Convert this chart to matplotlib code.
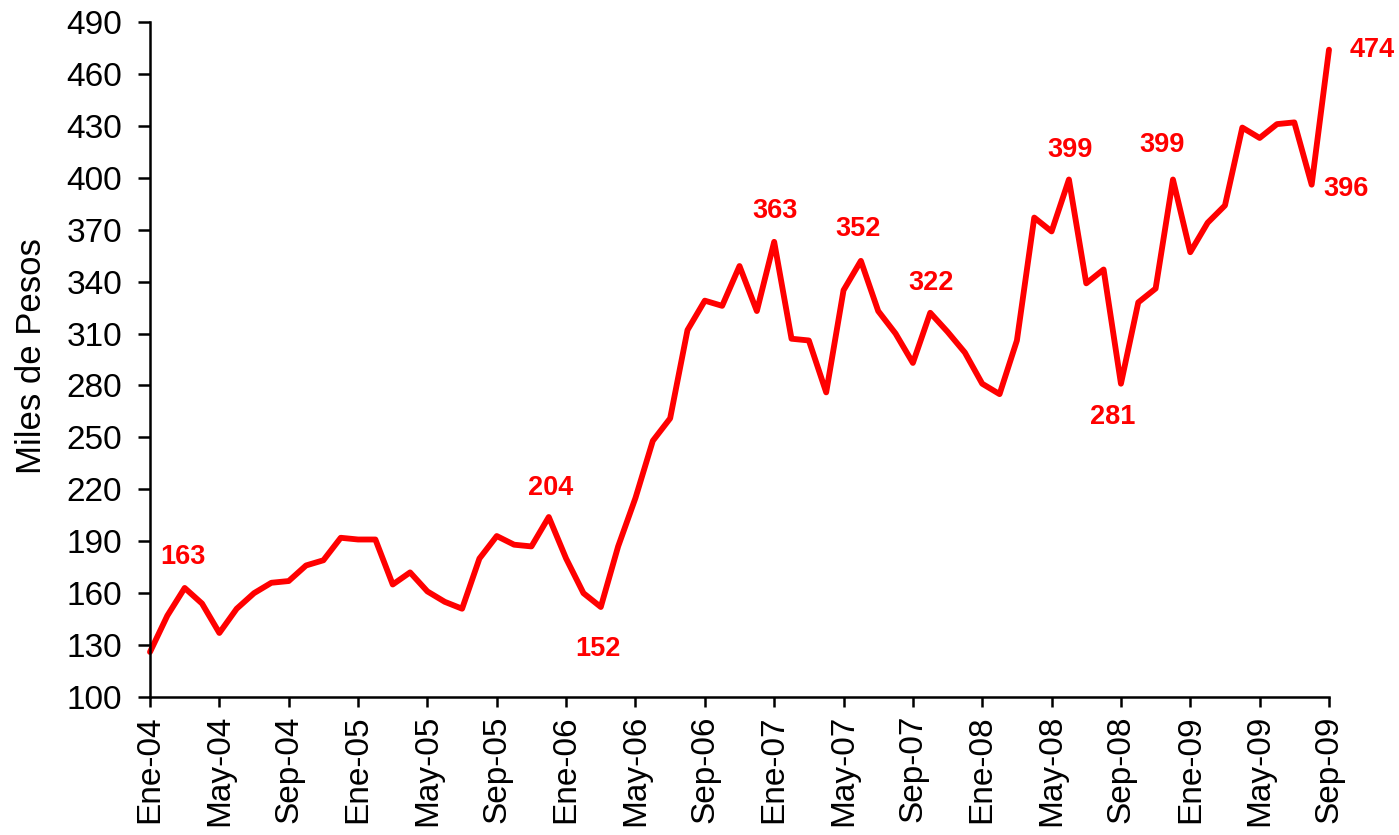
import matplotlib
matplotlib.use("Agg")
import matplotlib.pyplot as plt

plt.rcParams['font.family'] = ['Liberation Sans', 'DejaVu Sans']

# monthly values, Ene-04 .. Sep-09 (miles de pesos)
valores = [126, 147, 163, 154, 137, 151, 160, 166, 167, 176, 179, 192,
           191, 191, 165, 172, 161, 155, 151, 180, 193, 188, 187, 204,
           180, 160, 152, 187, 215, 248, 261, 312, 329, 326, 349, 323,
           363, 307, 306, 276, 335, 352, 323, 310, 293, 322, 311, 299,
           281, 275, 306, 377, 369, 399, 339, 347, 281, 328, 336, 399,
           357, 374, 384, 429, 423, 431, 432, 396, 474]

meses = ['Ene', 'Feb', 'Mar', 'Abr', 'May', 'Jun',
         'Jul', 'Ago', 'Sep', 'Oct', 'Nov', 'Dic']
etiquetas = [f"{meses[i % 12]}-{4 + i // 12:02d}" for i in range(len(valores))]

# labelled points: index, offset in pixels (dx, dy)
marcas = [(2, (-2, 31)), (23, (2, 29)), (26, (-3, -42)), (36, (1, 31)),
          (41, (-3, 32)), (45, (1, 30)), (53, (1, 29)), (56, (-8, -33)),
          (59, (-11, 34)), (67, (34, -4)), (68, (43, 0))]

fig = plt.figure(figsize=(13.99, 8.35), dpi=100)
ax = fig.add_axes([150/1399, 1 - 697/835, 1179/1399, 675/835])

x = list(range(len(valores)))
ax.plot(x, valores, color='#ff0000', linewidth=4.2, solid_joinstyle='round',
        solid_capstyle='round', clip_on=False)

for i, (dx, dy) in marcas:
    ax.annotate(str(valores[i]), (x[i], valores[i]), xytext=(dx, dy),
                textcoords='offset pixels', ha='center', va='center',
                color='#ff0000', fontsize=19.5, fontweight='bold',
                annotation_clip=False)

ax.set_xlim(0, len(valores) - 1)
ax.set_ylim(100, 490)
ax.set_yticks(range(100, 491, 30))
ax.set_xticks(x[::4])
ax.set_xticklabels(etiquetas[::4], rotation=90)

for s in ['top', 'right']:
    ax.spines[s].set_visible(False)
for s in ['left', 'bottom']:
    ax.spines[s].set_linewidth(1.8)

ax.tick_params(axis='y', direction='out', length=9, width=1.8, pad=11,
               labelsize=24)
ax.tick_params(axis='x', direction='out', length=7, width=1.8, pad=6,
               labelsize=24)

fig.text(32/1399, 1 - 356/835, 'Miles de Pesos', rotation=90,
         ha='center', va='center', fontsize=25)

fig.savefig('out.png', dpi=100)
